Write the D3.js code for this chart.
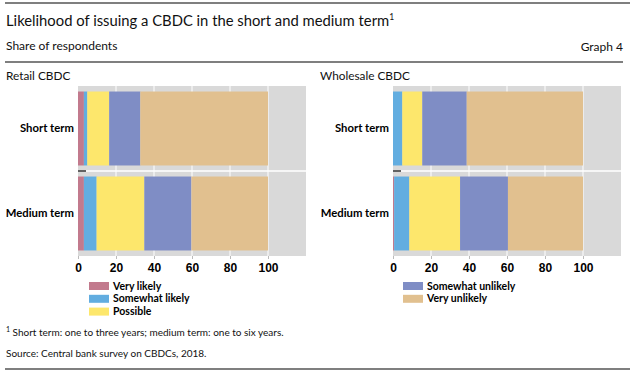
<!DOCTYPE html>
<html lang="en">
<head>
<meta charset="utf-8">
<style>
  body { margin: 0; background: #fff; }
  svg { font-family: Lato, "Open Sans", sans-serif; }
  .axis .domain { display: none; }
  .axis text { font-weight: bold; font-size: 12px; fill: #000; }
  .axis line { stroke: #bbb; }
</style>
</head>
<body>
<svg width="637" height="371"></svg>
<script src="https://d3js.org/d3.v7.min.js"></script>
<script>
var categories = ["Short term", "Medium term"];
var seriesNames = ["Very likely", "Somewhat likely", "Possible", "Somewhat unlikely", "Very unlikely"];
var colors = ["#c27a8d", "#62ade0", "#fde76c", "#7f8dc5", "#e1c08f"];
var tickValues = [0, 20, 40, 60, 80, 100];

// share of respondents, per category, per series
var retailShort = [3.1, 1.8, 11.5, 16.4, 67.2];
var retailMedium = [3.1, 6.7, 25.1, 24.8, 40.3];
var wholesaleShort = [0, 4.9, 10.5, 23.4, 61.2];
var wholesaleMedium = [0.6, 8.0, 26.7, 25.2, 39.5];

var svg = d3.select("svg");

// frame lines and texts
svg.append("line").attr("x1", 5).attr("x2", 630).attr("y1", 3).attr("y2", 3).attr("stroke", "#000").attr("stroke-width", 1.2);
svg.append("line").attr("x1", 5).attr("x2", 623).attr("y1", 62).attr("y2", 62).attr("stroke", "#000").attr("stroke-width", 1.2);
svg.append("line").attr("x1", 5).attr("x2", 630).attr("y1", 369).attr("y2", 369).attr("stroke", "#000").attr("stroke-width", 1.2);

var title = svg.append("text").attr("x", 6).attr("y", 26).attr("font-size", 14.8).attr("fill", "#111")
  .text("Likelihood of issuing a CBDC in the short and medium term");
title.append("tspan").attr("dy", -6).attr("font-size", 8.5).text("1");

svg.append("text").attr("x", 6).attr("y", 50).attr("font-size", 12).attr("fill", "#111").text("Share of respondents");
svg.append("text").attr("x", 623).attr("y", 51).attr("font-size", 12).attr("fill", "#111").attr("text-anchor", "end").text("Graph 4");

var foot = svg.append("text").attr("x", 6).attr("y", 336).attr("font-size", 10).attr("fill", "#111");
foot.append("tspan").attr("font-size", 7).attr("dy", -4).text("1");
foot.append("tspan").attr("dy", 4).text(" Short term: one to three years; medium term: one to six years.");
svg.append("text").attr("x", 6).attr("y", 357).attr("font-size", 10).attr("fill", "#111").text("Source: Central bank survey on CBDCs, 2018.");

function drawPanel(name, left, right, nameX, shortVals, mediumVals) {
  var rows = [shortVals, mediumVals];
  var x = d3.scaleLinear().domain([0, 120]).range([left, right]);
  var y = d3.scaleBand().domain(categories).range([86, 256]).paddingInner(0.13).paddingOuter(0.065);
  var g = svg.append("g");

  g.append("text").attr("x", nameX).attr("y", 80).attr("font-size", 11.8).attr("fill", "#111").text(name);

  g.append("rect").attr("x", left).attr("y", 86).attr("width", right - left).attr("height", 170).attr("fill", "#d9d9d9");

  g.selectAll(".grid").data(tickValues.slice(1)).join("line")
    .attr("x1", function(d) { return x(d); }).attr("x2", function(d) { return x(d); })
    .attr("y1", 86).attr("y2", 256).attr("stroke", "#fff").attr("stroke-width", 1);

  // separator between categories
  var sepY = (y(categories[0]) + y.bandwidth() + y(categories[1])) / 2;
  g.append("line").attr("x1", left).attr("x2", right).attr("y1", sepY).attr("y2", sepY).attr("stroke", "#fff").attr("stroke-width", 1.5);
  g.append("line").attr("x1", left).attr("x2", left + 8).attr("y1", sepY).attr("y2", sepY).attr("stroke", "#000").attr("stroke-width", 1.2);

  categories.forEach(function(cat, ci) {
    var stacked = [];
    var acc = 0;
    rows[ci].forEach(function(v, si) {
      stacked.push({ x0: acc, x1: acc + v, color: colors[si] });
      acc += v;
    });
    g.append("g").selectAll("rect").data(stacked).join("rect")
      .attr("x", function(d) { return x(d.x0); })
      .attr("width", function(d) { return x(d.x1) - x(d.x0); })
      .attr("y", y(cat))
      .attr("height", y.bandwidth())
      .attr("fill", function(d) { return d.color; });

    g.append("text")
      .attr("x", left - 4)
      .attr("y", y(cat) + y.bandwidth() / 2)
      .attr("dy", "0.35em")
      .attr("text-anchor", "end")
      .attr("font-size", 11.3)
      .attr("font-weight", "bold")
      .attr("fill", "#000")
      .text(cat);
  });

  g.append("g").attr("class", "axis")
    .attr("transform", "translate(0,256)")
    .call(d3.axisBottom(x).tickValues(tickValues).tickSize(3).tickPadding(4));
}

drawPanel("Retail CBDC", 78, 306, 6, retailShort, retailMedium);
drawPanel("Wholesale CBDC", 393, 621, 320, wholesaleShort, wholesaleMedium);

// legend, split in two columns
var legendCols = [{ x: 89, items: [0, 1, 2] }, { x: 403, items: [3, 4] }];
legendCols.forEach(function(col) {
  var lg = svg.append("g").selectAll("g").data(col.items).join("g")
    .attr("transform", function(d, i) { return "translate(" + col.x + "," + (286 + i * 12.8) + ")"; });
  lg.append("rect").attr("x", 0).attr("y", -4).attr("width", 20).attr("height", 8)
    .attr("fill", function(d) { return colors[d]; });
  lg.append("text").attr("x", 24).attr("dy", "0.35em").attr("font-size", 10.5).attr("font-weight", "bold")
    .attr("fill", "#000").text(function(d) { return seriesNames[d]; });
});
</script>
</body>
</html>
